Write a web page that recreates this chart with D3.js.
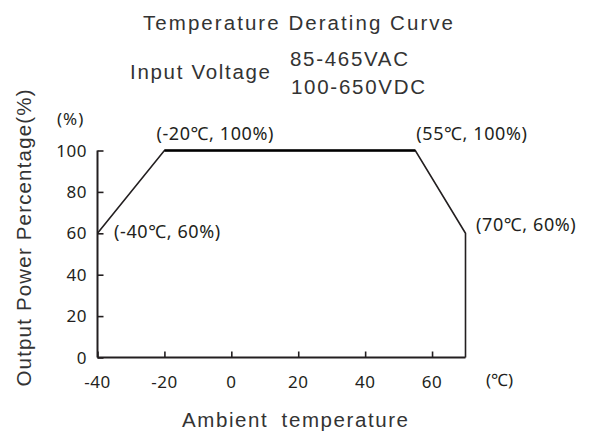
<!DOCTYPE html>
<html><head><meta charset="utf-8">
<script src="https://cdn.jsdelivr.net/npm/d3@7/dist/d3.min.js"></script>
<style>body{margin:0;background:#fff}svg{display:block}</style>
</head><body>
<svg id="c" width="592" height="433"></svg>
<script>
const curveT = [-40, -20, 55, 70, 70];
const curveP = [60, 100, 100, 60, 0];
const xTicks = [-40, -20, 0, 20, 40, 60];
const yTicks = [0, 20, 40, 60, 80, 100];
const annotT = [-20, 55, -40, 70];
const annotP = [100, 100, 60, 60];
const annotText = ["(-20℃, 100%)", "(55℃, 100%)", "(-40℃, 60%)", "(70℃, 60%)"];

const svg = d3.select("#c");
const x = d3.scaleLinear().domain([-40, 70]).range([97.5, 465.5]);
const y = d3.scaleLinear().domain([0, 100]).range([357.5, 150.5]);
const ink = "#231f20";
const tickFont = "'Noto Sans', 'Open Sans', sans-serif";
const titleFont = "'Liberation Sans', Arial, sans-serif";

// x axis
const xa = svg.append("g").attr("transform", `translate(0,${y(0)})`)
  .call(d3.axisTop(x).tickValues(xTicks).tickSize(6).tickFormat(""));
xa.select(".domain").attr("d", `M${x(-40)},0H${x(70)}`).attr("stroke", ink).attr("stroke-width", 2);
xa.selectAll(".tick line").attr("stroke", ink).attr("stroke-width", 1.6);
svg.append("g").selectAll("text").data(xTicks).join("text")
  .attr("x", d => x(d)).attr("y", 388).attr("text-anchor", "middle")
  .attr("font-family", tickFont).attr("font-size", 17).attr("letter-spacing", 0.5)
  .attr("fill", ink).text(d => d);

// y axis
const ya = svg.append("g").attr("transform", `translate(${x(-40)},0)`)
  .call(d3.axisRight(y).tickValues(yTicks).tickSize(6).tickFormat(""));
ya.select(".domain").attr("d", `M0,${y(0)}V${y(100)}`).attr("stroke", ink).attr("stroke-width", 2);
ya.selectAll(".tick line").attr("stroke", ink).attr("stroke-width", 1.6);
svg.append("g").selectAll("text").data(yTicks).join("text")
  .attr("x", 87).attr("y", d => y(d) + 6).attr("text-anchor", "end")
  .attr("font-family", tickFont).attr("font-size", 17).attr("letter-spacing", 0.5)
  .attr("fill", ink).text(d => d);

// curve
const pts = curveT.map((t, i) => [x(t), y(curveP[i])]);
svg.append("path").attr("d", d3.line()(pts)).attr("fill", "none")
  .attr("stroke", ink).attr("stroke-width", 1.6).attr("stroke-linejoin", "miter");
svg.append("path").attr("d", d3.line()(pts.slice(1, 3))).attr("fill", "none")
  .attr("stroke", "#000").attr("stroke-width", 2.6);

// annotations
const annotDx = [-8, 1, 16.5, 10.5];
const annotDy = [-11, -11, 5, -2];
svg.append("g").selectAll("text").data(annotText).join("text")
  .attr("x", (d, i) => x(annotT[i]) + annotDx[i]).attr("y", (d, i) => y(annotP[i]) + annotDy[i])
  .attr("font-family", tickFont).attr("font-size", 18).attr("letter-spacing", 0.6)
  .attr("fill", ink).text(d => d);

// units
svg.append("text").attr("x", 57).attr("y", 125).attr("font-family", tickFont)
  .attr("font-size", 17).attr("letter-spacing", 1).attr("fill", ink).text("(%)");
svg.append("text").attr("x", 486).attr("y", 386).attr("font-family", tickFont)
  .attr("font-size", 17).attr("fill", ink).text("(℃)");

// titles
function label(txt, xPos, yPos, anchor, len) {
  return svg.append("text").attr("x", xPos).attr("y", yPos).attr("text-anchor", anchor)
    .attr("font-family", titleFont).attr("font-size", 20.5).attr("fill", "#333")
    .attr("textLength", len).attr("lengthAdjust", "spacing").text(txt);
}
label("Temperature Derating Curve", 298, 30, "middle", 310);
label("Input Voltage", 130, 78.5, "start", 140);
label("85-465VAC", 290, 66, "start", 118);
label("100-650VDC", 291, 94, "start", 134);
label("Ambient temperature", 295, 427, "middle", 226).attr("word-spacing", 6);
svg.append("text").attr("transform", "translate(31,238) rotate(-90)").attr("text-anchor", "middle")
  .attr("font-family", titleFont).attr("font-size", 20.5).attr("fill", "#333")
  .attr("textLength", 297).attr("lengthAdjust", "spacing").text("Output Power Percentage(%)");
</script>
</body></html>
